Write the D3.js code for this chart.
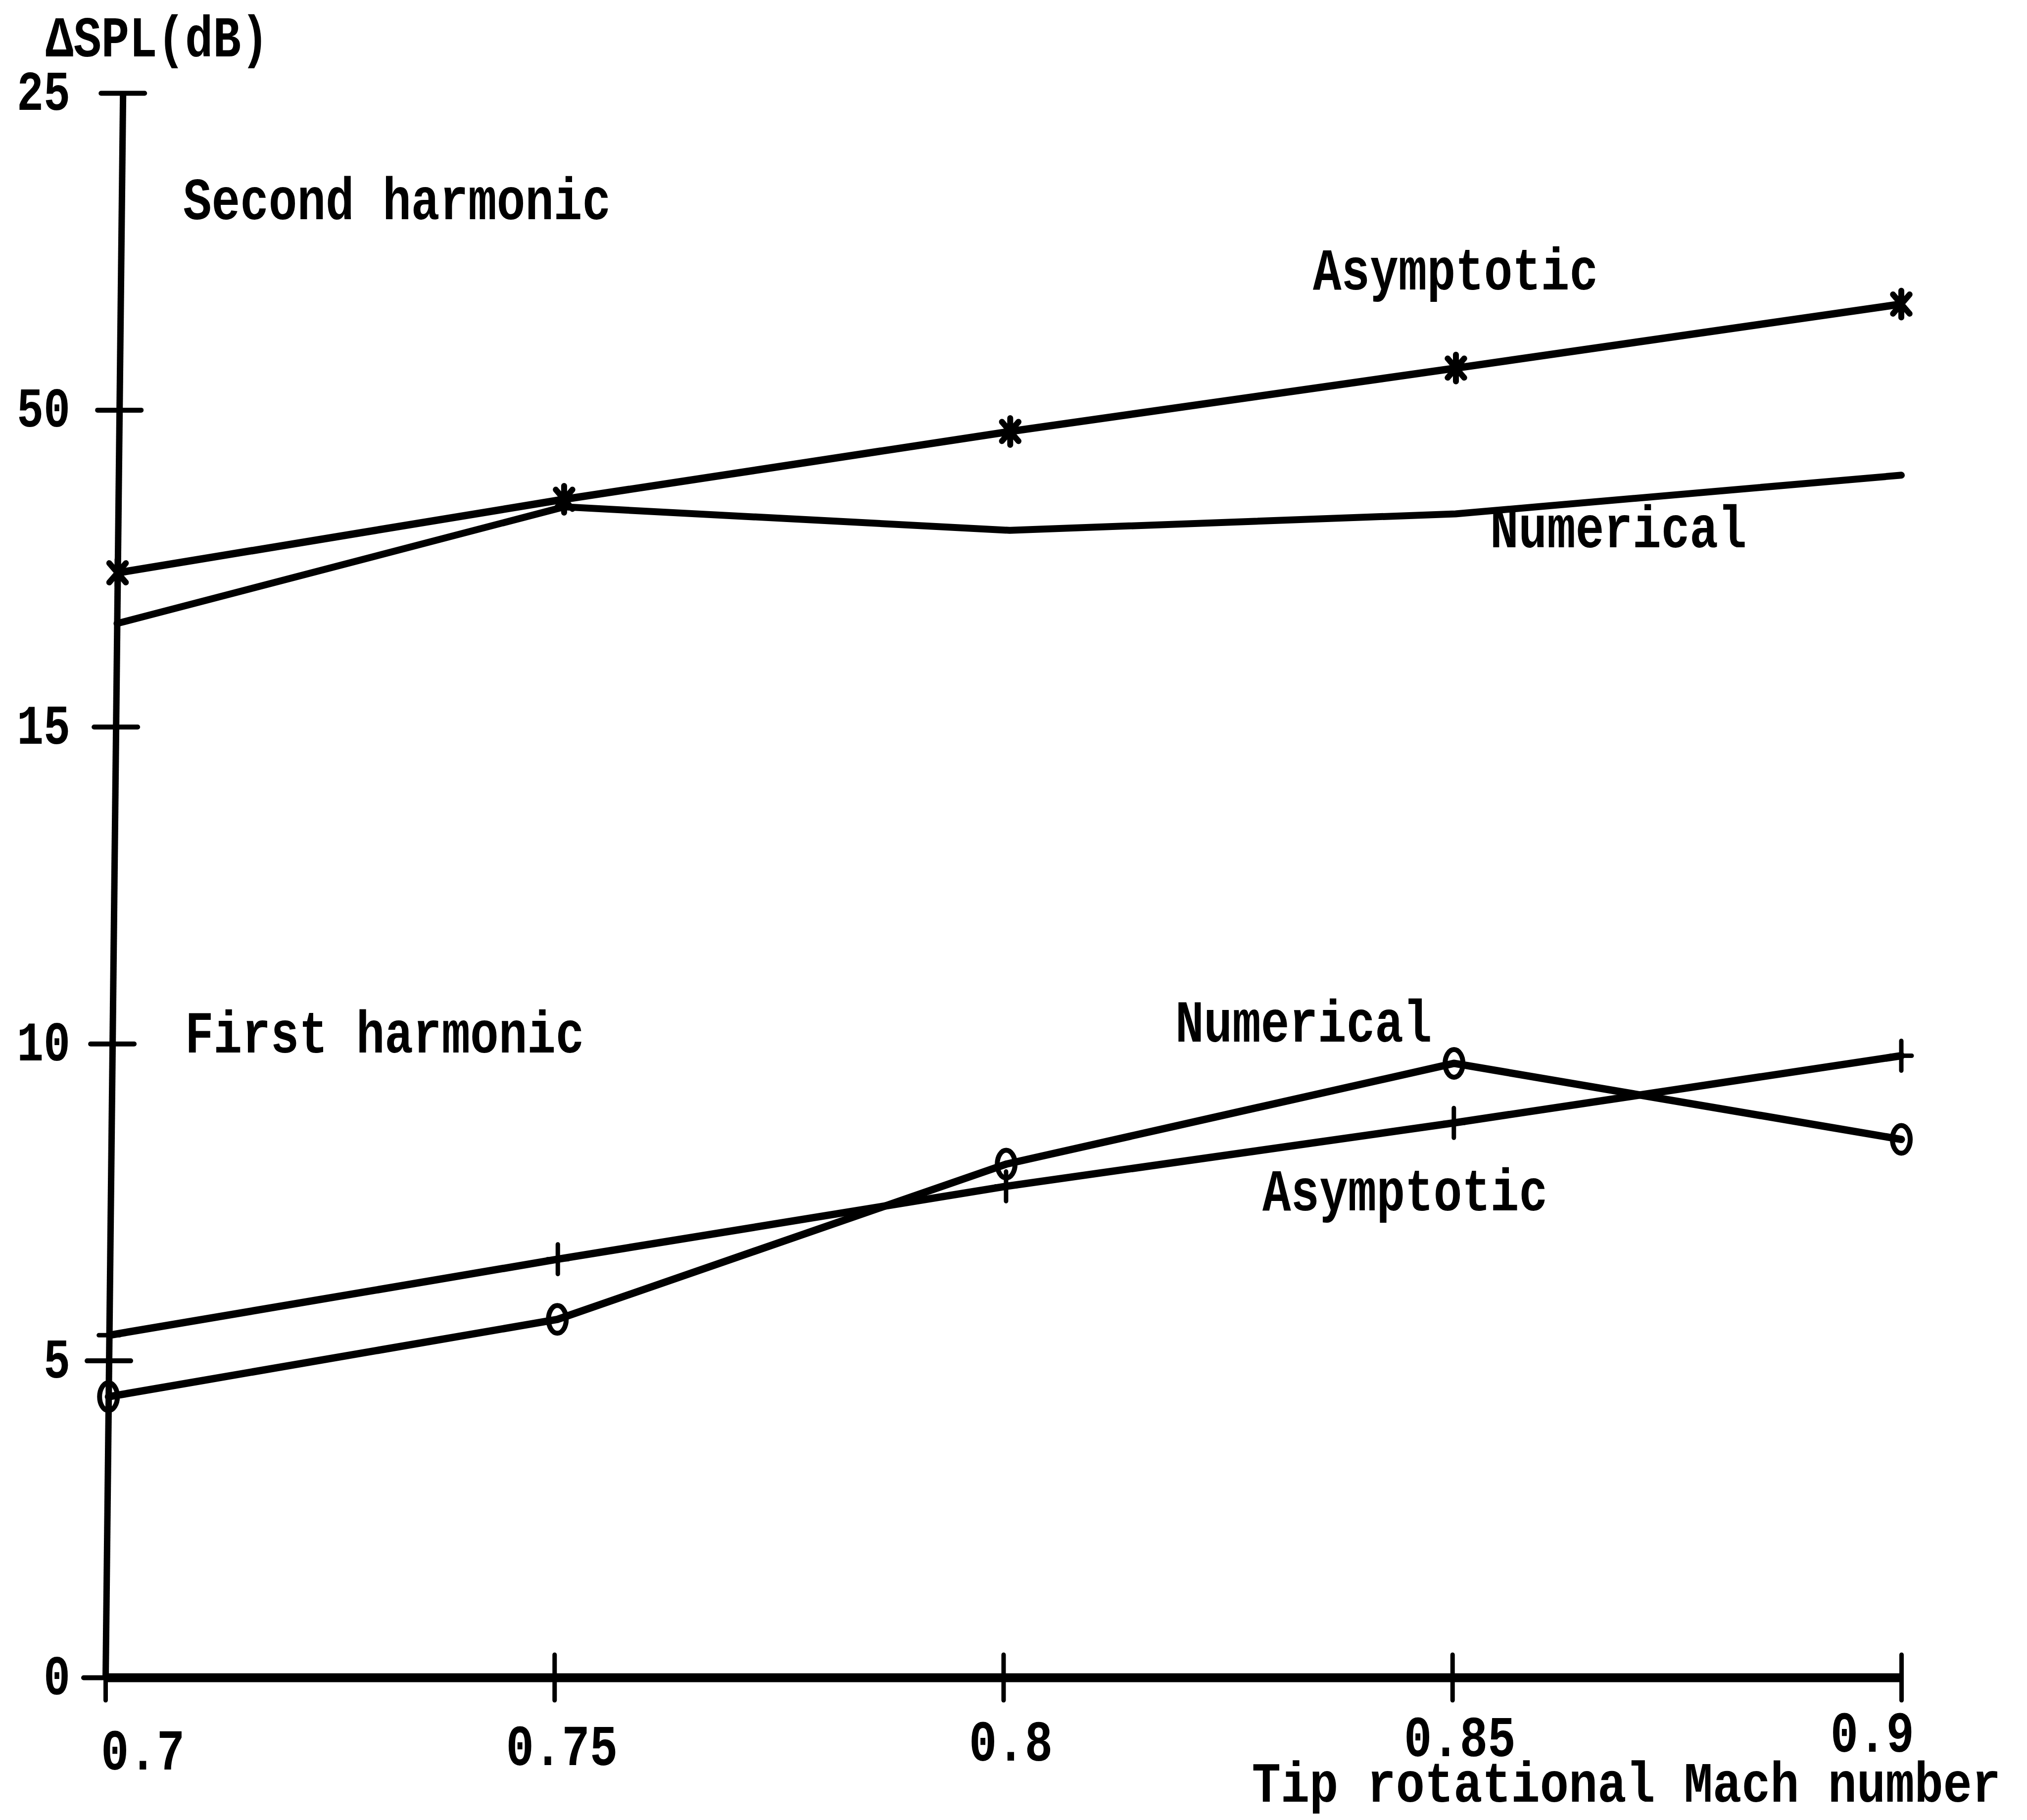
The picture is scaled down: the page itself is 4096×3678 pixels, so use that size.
<!DOCTYPE html>
<html>
<head>
<meta charset="utf-8">
<script src="https://cdn.jsdelivr.net/npm/d3@7"></script>
<style>
  html, body { margin: 0; padding: 0; background: #fff; }
  svg { display: block; }
</style>
</head>
<body>
<script>
// Tip rotational Mach number (x) against ΔSPL in dB (y)
const machNumbers = [0.7, 0.75, 0.8, 0.85, 0.9];

// second harmonic
const secondAsymptotic = [17.43, 18.59, 19.66, 20.66, 21.67];
const secondNumerical  = [16.63, 18.47, 18.10, 18.36, 18.97];

// first harmonic
const firstNumerical   = [4.43, 5.65, 8.10, 9.69, 8.49];
const firstAsymptotic  = [5.40, 6.60, 7.75, 8.75, 9.81];

const xTickValues = [0.7, 0.75, 0.8, 0.85, 0.9];
const xTickLabels = ["0.7", "0.75", "0.8", "0.85", "0.9"];
const yTickValues = [0, 5, 10, 15, 20, 25];
const yTickLabels = ["0", "5", "10", "15", "50", "25"];

const W = 4096, H = 3678;
const svg = d3.select("body").append("svg")
  .attr("width", W).attr("height", H);
svg.append("rect").attr("width", W).attr("height", H).attr("fill", "#fff");

const x = d3.scaleLinear().domain([0.7, 0.9]).range([213, 3842]);
const y = d3.scaleLinear().domain([0, 25]).range([3390, 188]);
const y0 = y(0);

// the hand-ruled sheet leans a little: the left edge tilts toward the top
const lean = d3.scaleLinear().domain([0.7, 0.9]).range([0.011, 0]);
const px = (m, v) => x(m) + lean(m) * (y0 - y(v));
const py = v => y(v);

const FONT = "'Liberation Mono', 'DejaVu Sans Mono', monospace";

function type(str, tx, ty, size, anchor, sy) {
  return svg.append("text")
    .attr("transform", `translate(${tx},${ty}) scale(1,${sy || 1.25})`)
    .attr("font-family", FONT)
    .attr("font-weight", "bold")
    .attr("font-size", size)
    .attr("text-anchor", anchor || "start")
    .attr("fill", "#000")
    .text(str);
}

// ---- x axis ----
const xAxis = d3.axisBottom(x)
  .tickValues(xTickValues)
  .tickFormat("")
  .tickSizeInner(0)
  .tickSizeOuter(0);
const gx = svg.append("g").attr("transform", `translate(0,${y0})`).call(xAxis);
gx.select(".domain").attr("stroke", "#000").attr("stroke-width", 18);
gx.selectAll(".tick line")
  .attr("y1", -46).attr("y2", 46)
  .attr("stroke", "#000").attr("stroke-width", 9)
  .attr("stroke-linecap", "round");

// typed tick labels drift slightly upward toward the right
xTickValues.forEach((v, i) => {
  const last = i === xTickValues.length - 1;
  const anchor = i === 0 ? "start" : (last ? "end" : "middle");
  const dx = i === 0 ? -9 : (last ? 26 : 15);
  type(xTickLabels[i], x(v) + dx, 3576 - 9 * i, 94, anchor);
});

type("Tip rotational Mach number", 4043, 3641, 97, "end", 1.18);

// ---- y axis ----
const yAxis = d3.axisLeft(y)
  .tickValues(yTickValues)
  .tickFormat("")
  .tickSizeInner(0)
  .tickSizeOuter(0);
const skewDeg = -Math.atan(lean(0.7)) * 180 / Math.PI;
const gy = svg.append("g")
  .attr("transform", `translate(${x(0.7)},${y0}) skewX(${skewDeg}) translate(0,${-y0})`)
  .call(yAxis);
gy.select(".domain").attr("stroke", "#000").attr("stroke-width", 13);
gy.selectAll(".tick line")
  .attr("x1", -44).attr("x2", 44)
  .attr("stroke", "#000").attr("stroke-width", 10)
  .attr("stroke-linecap", "round");

yTickValues.forEach((v, i) => {
  type(yTickLabels[i], 142, y(v) + 34, 90, "end");
});

type("\u0394SPL(dB)", 92, 114, 94, "start");

// ---- series ----
const toPoints = vals => machNumbers.map((m, i) => ({ m, v: vals[i] }));
const line = d3.line().x(d => px(d.m, d.v)).y(d => py(d.v));

function drawLine(vals, width) {
  svg.append("path")
    .datum(toPoints(vals))
    .attr("d", line)
    .attr("fill", "none")
    .attr("stroke", "#000")
    .attr("stroke-width", width)
    .attr("stroke-linejoin", "round")
    .attr("stroke-linecap", "round");
}

drawLine(secondAsymptotic, 15);
drawLine(secondNumerical, 14);
drawLine(firstAsymptotic, 15);
drawLine(firstNumerical, 15);

// marker shapes; the size argument is the arm length in pixels
const starShape = {
  draw(ctx, r) {
    const u = r * 0.62, t = r * 0.72;
    ctx.moveTo(0, -r); ctx.lineTo(0, r);
    ctx.moveTo(-u, -t); ctx.lineTo(u, t);
    ctx.moveTo(-u, t); ctx.lineTo(u, -t);
  }
};
const plusShape = {
  draw(ctx, r) {
    ctx.moveTo(0, -r); ctx.lineTo(0, r);
    ctx.moveTo(-r * 0.7, 0); ctx.lineTo(r * 0.7, 0);
  }
};

// asterisks on the second-harmonic asymptotic curve
svg.append("g").selectAll("path")
  .data(toPoints(secondAsymptotic))
  .join("path")
  .attr("transform", d => `translate(${px(d.m, d.v)},${py(d.v)})`)
  .attr("d", d3.symbol(starShape, 27))
  .attr("fill", "none")
  .attr("stroke", "#000")
  .attr("stroke-width", 12)
  .attr("stroke-linecap", "round");

// crosses on the first-harmonic asymptotic curve
svg.append("g").selectAll("path")
  .data(toPoints(firstAsymptotic))
  .join("path")
  .attr("transform", d => `translate(${px(d.m, d.v)},${py(d.v)})`)
  .attr("d", d3.symbol(plusShape, 30))
  .attr("fill", "none")
  .attr("stroke", "#000")
  .attr("stroke-width", 9)
  .attr("stroke-linecap", "round");

// open rings on the first-harmonic numerical curve
svg.append("g").selectAll("ellipse")
  .data(toPoints(firstNumerical))
  .join("ellipse")
  .attr("cx", d => px(d.m, d.v))
  .attr("cy", d => py(d.v))
  .attr("rx", 18)
  .attr("ry", 28)
  .attr("fill", "none")
  .attr("stroke", "#000")
  .attr("stroke-width", 10);

// ---- curve annotations ----
type("Second harmonic", 370, 443, 96);
type("Asymptotic", 2653, 585, 96);
type("Numerical", 3011, 1106, 96);
type("First harmonic", 374, 2127, 96);
type("Numerical", 2375, 2105, 96);
type("Asymptotic", 2551, 2446, 96);
</script>
</body>
</html>
